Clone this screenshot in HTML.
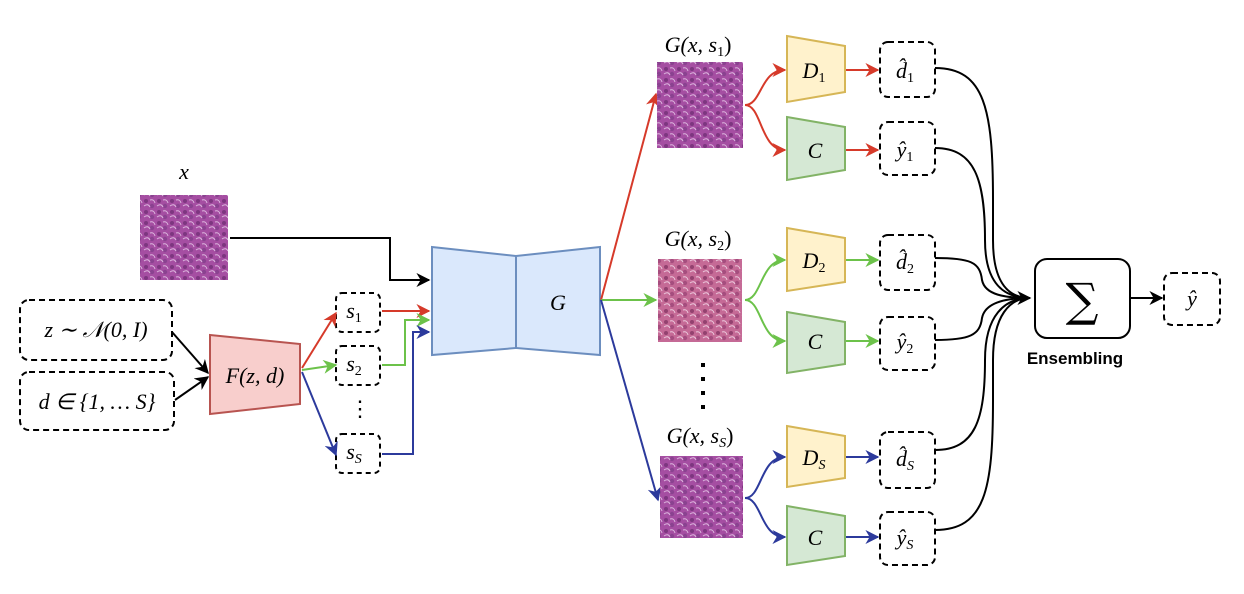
<!DOCTYPE html>
<html><head><meta charset="utf-8"><style>
html,body{margin:0;padding:0;background:#fff;}
svg{display:block;}
.m{font-family:"Liberation Serif",serif;font-style:italic;font-size:22px;}
.r{font-family:"Liberation Serif",serif;font-size:22px;}
</style></head><body>
<svg width="1244" height="594" viewBox="0 0 1244 594" xmlns="http://www.w3.org/2000/svg">
<defs>
<marker id="ak" viewBox="0 0 10 10" refX="9" refY="5" markerWidth="7" markerHeight="7" orient="auto"><path d="M0,0 L10,5 L0,10 L3,5z" fill="#000"/></marker>
<marker id="ar" viewBox="0 0 10 10" refX="9" refY="5" markerWidth="7" markerHeight="7" orient="auto"><path d="M0,0 L10,5 L0,10 L3,5z" fill="#d63a2a"/></marker>
<marker id="ag" viewBox="0 0 10 10" refX="9" refY="5" markerWidth="7" markerHeight="7" orient="auto"><path d="M0,0 L10,5 L0,10 L3,5z" fill="#6cc24a"/></marker>
<marker id="ab" viewBox="0 0 10 10" refX="9" refY="5" markerWidth="7" markerHeight="7" orient="auto"><path d="M0,0 L10,5 L0,10 L3,5z" fill="#2c3a9c"/></marker>
<pattern id="tis" width="13" height="11" patternUnits="userSpaceOnUse">
<rect width="13" height="11" fill="#a54ea2"/>
<circle cx="3" cy="3" r="2" fill="#7d3680"/><circle cx="9" cy="8" r="2.2" fill="#8a4290"/>
<path d="M1,8 Q5,5 7,9 M7,2 Q11,1 12,5" stroke="#dcb6de" stroke-width="1" fill="none"/>
</pattern>
<pattern id="tis2" width="13" height="11" patternUnits="userSpaceOnUse">
<rect width="13" height="11" fill="#c56a96"/>
<circle cx="3" cy="3" r="2" fill="#93416f"/><circle cx="9" cy="8" r="2.2" fill="#a54d7e"/>
<path d="M1,8 Q5,5 7,9 M7,2 Q11,1 12,5" stroke="#ecc8dc" stroke-width="1" fill="none"/>
</pattern>
</defs>

<text x="184" y="179" class="m" text-anchor="middle">x</text>
<rect x="140" y="195" width="88" height="85" fill="url(#tis)"/>
<path d="M230,238 L390,238 L390,280 L429,280" stroke="#000" stroke-width="2" fill="none" marker-end="url(#ak)"/>

<rect x="20" y="300" width="152" height="60" rx="9" fill="none" stroke="#000" stroke-width="2" stroke-dasharray="6,4"/>
<text x="96" y="337" class="m" text-anchor="middle">z ∼ 𝒩(0, I)</text>
<rect x="20" y="372" width="154" height="58" rx="9" fill="none" stroke="#000" stroke-width="2" stroke-dasharray="6,4"/>
<text x="97" y="409" class="m" text-anchor="middle">d ∈ {1, … S}</text>
<line x1="172" y1="332" x2="208" y2="373" stroke="#000" stroke-width="2" marker-end="url(#ak)"/>
<line x1="175" y1="400" x2="208" y2="377" stroke="#000" stroke-width="2" marker-end="url(#ak)"/>

<polygon points="210,335 300,344 300,404 210,414" fill="#f8cecc" stroke="#b85450" stroke-width="2"/>
<text x="255" y="383" class="m" text-anchor="middle">F(z, d)</text>

<rect x="336" y="293" width="44" height="39" rx="6" fill="none" stroke="#000" stroke-width="2" stroke-dasharray="5,4"/>
<text x="354" y="318" class="m" text-anchor="middle">s<tspan font-size="14" font-style="normal" dy="4">1</tspan></text>
<rect x="336" y="346" width="44" height="39" rx="6" fill="none" stroke="#000" stroke-width="2" stroke-dasharray="5,4"/>
<text x="354" y="371" class="m" text-anchor="middle">s<tspan font-size="14" font-style="normal" dy="4">2</tspan></text>
<text x="360" y="416" class="r" text-anchor="middle">⋮</text>
<rect x="336" y="434" width="44" height="39" rx="6" fill="none" stroke="#000" stroke-width="2" stroke-dasharray="5,4"/>
<text x="354" y="459" class="m" text-anchor="middle">s<tspan font-size="14" dy="4">S</tspan></text>

<line x1="302" y1="368" x2="336" y2="313" stroke="#d63a2a" stroke-width="2" marker-end="url(#ar)"/>
<line x1="302" y1="370" x2="336" y2="365" stroke="#6cc24a" stroke-width="2" marker-end="url(#ag)"/>
<line x1="302" y1="372" x2="336" y2="455" stroke="#2c3a9c" stroke-width="2" marker-end="url(#ab)"/>

<path d="M382,311 L429,311" stroke="#d63a2a" stroke-width="2" fill="none" marker-end="url(#ar)"/>
<path d="M382,365 L405,365 L405,320 L429,320" stroke="#6cc24a" stroke-width="2" fill="none" marker-end="url(#ag)"/>
<path d="M382,454 L413,454 L413,332 L429,332" stroke="#2c3a9c" stroke-width="2" fill="none" marker-end="url(#ab)"/>

<polygon points="432,247 516,256 516,348 432,355" fill="#dae8fc" stroke="#6c8ebf" stroke-width="2"/>
<polygon points="516,256 600,247 600,355 516,348" fill="#dae8fc" stroke="#6c8ebf" stroke-width="2"/>
<text x="558" y="310" class="m" text-anchor="middle">G</text>

<line x1="601" y1="300" x2="656" y2="94" stroke="#d63a2a" stroke-width="2" marker-end="url(#ar)"/>
<line x1="601" y1="300" x2="656" y2="300" stroke="#6cc24a" stroke-width="2" marker-end="url(#ag)"/>
<line x1="601" y1="300" x2="658" y2="500" stroke="#2c3a9c" stroke-width="2" marker-end="url(#ab)"/>

<text x="698" y="52" class="m" text-anchor="middle">G(x, s<tspan font-size="14" font-style="normal" dy="4">1</tspan><tspan dy="-4" font-style="normal">)</tspan></text>
<rect x="657" y="62" width="86" height="86" fill="url(#tis)"/>
<text x="698" y="246" class="m" text-anchor="middle">G(x, s<tspan font-size="14" font-style="normal" dy="4">2</tspan><tspan dy="-4" font-style="normal">)</tspan></text>
<rect x="658" y="259" width="84" height="83" fill="url(#tis2)"/>
<g fill="#000"><rect x="701" y="363" width="4" height="4"/><rect x="701" y="377" width="4" height="4"/><rect x="701" y="391" width="4" height="4"/><rect x="701" y="405" width="4" height="4"/></g>
<text x="700" y="443" class="m" text-anchor="middle">G(x, s<tspan font-size="14" dy="4">S</tspan><tspan dy="-4" font-style="normal">)</tspan></text>
<rect x="660" y="456" width="83" height="82" fill="url(#tis)"/>

<g fill="none" stroke-width="2">
<path d="M745,105 C762,105 760,70 785,70" stroke="#d63a2a" marker-end="url(#ar)"/>
<path d="M745,105 C762,105 760,150 785,150" stroke="#d63a2a" marker-end="url(#ar)"/>
<path d="M745,300 C762,300 760,260 785,260" stroke="#6cc24a" marker-end="url(#ag)"/>
<path d="M745,300 C762,300 760,341 785,341" stroke="#6cc24a" marker-end="url(#ag)"/>
<path d="M745,498 C762,498 760,457 785,457" stroke="#2c3a9c" marker-end="url(#ab)"/>
<path d="M745,498 C762,498 760,537 785,537" stroke="#2c3a9c" marker-end="url(#ab)"/>
<path d="M846,70 L878,70" stroke="#d63a2a" marker-end="url(#ar)"/>
<path d="M846,150 L878,150" stroke="#d63a2a" marker-end="url(#ar)"/>
<path d="M846,260 L878,260" stroke="#6cc24a" marker-end="url(#ag)"/>
<path d="M846,341 L878,341" stroke="#6cc24a" marker-end="url(#ag)"/>
<path d="M846,457 L878,457" stroke="#2c3a9c" marker-end="url(#ab)"/>
<path d="M846,537 L878,537" stroke="#2c3a9c" marker-end="url(#ab)"/>
</g>

<g stroke-width="2">
<polygon points="787,36 845,46 845,92 787,102" fill="#fff2cc" stroke="#d6b656"/>
<polygon points="787,117 845,127 845,170 787,180" fill="#d5e8d4" stroke="#82b366"/>
<polygon points="787,228 845,238 845,282 787,291" fill="#fff2cc" stroke="#d6b656"/>
<polygon points="787,312 845,322 845,364 787,373" fill="#d5e8d4" stroke="#82b366"/>
<polygon points="787,426 845,436 845,478 787,487" fill="#fff2cc" stroke="#d6b656"/>
<polygon points="787,506 845,516 845,556 787,565" fill="#d5e8d4" stroke="#82b366"/>
</g>
<text x="814" y="78" class="m" text-anchor="middle">D<tspan font-size="14" font-style="normal" dy="4">1</tspan></text>
<text x="815" y="158" class="m" text-anchor="middle">C</text>
<text x="814" y="268" class="m" text-anchor="middle">D<tspan font-size="14" font-style="normal" dy="4">2</tspan></text>
<text x="815" y="349" class="m" text-anchor="middle">C</text>
<text x="814" y="465" class="m" text-anchor="middle">D<tspan font-size="14" dy="4">S</tspan></text>
<text x="815" y="545" class="m" text-anchor="middle">C</text>

<g fill="none" stroke="#000" stroke-width="2" stroke-dasharray="6,4">
<rect x="880" y="42" width="55" height="55" rx="8"/>
<rect x="880" y="122" width="55" height="53" rx="8"/>
<rect x="880" y="235" width="55" height="55" rx="8"/>
<rect x="880" y="317" width="55" height="53" rx="8"/>
<rect x="880" y="432" width="55" height="56" rx="8"/>
<rect x="880" y="512" width="55" height="53" rx="8"/>
<rect x="1164" y="273" width="56" height="52" rx="8"/>
</g>
<text x="905" y="78" class="m" text-anchor="middle">d̂<tspan font-size="14" font-style="normal" dy="4">1</tspan></text>
<text x="905" y="157" class="m" text-anchor="middle">ŷ<tspan font-size="14" font-style="normal" dy="4">1</tspan></text>
<text x="905" y="269" class="m" text-anchor="middle">d̂<tspan font-size="14" font-style="normal" dy="4">2</tspan></text>
<text x="905" y="349" class="m" text-anchor="middle">ŷ<tspan font-size="14" font-style="normal" dy="4">2</tspan></text>
<text x="905" y="466" class="m" text-anchor="middle">d̂<tspan font-size="14" dy="4">S</tspan></text>
<text x="905" y="545" class="m" text-anchor="middle">ŷ<tspan font-size="14" dy="4">S</tspan></text>
<text x="1192" y="306" class="m" text-anchor="middle">ŷ</text>

<g fill="none" stroke="#000" stroke-width="2">
<path d="M935,68 C985,68 993,110 993,200 L993,240 C993,285 1010,298 1030,298"/>
<path d="M935,148 C975,148 985,180 985,240 C985,285 1005,298 1030,298"/>
<path d="M935,258 C970,258 980,262 982,280 C985,295 1005,298 1030,298"/>
<path d="M935,340 C970,340 980,335 982,318 C985,303 1005,298 1030,298"/>
<path d="M935,450 C975,450 985,420 985,360 C985,315 1005,298 1030,298"/>
<path d="M935,530 C985,530 993,490 993,400 L993,360 C993,315 1010,298 1030,298" marker-end="url(#ak)"/>
</g>
<rect x="1035" y="259" width="95" height="79" rx="12" fill="#fff" stroke="#000" stroke-width="2"/>
<text x="1082" y="316" font-family="DejaVu Serif,serif" font-size="46" text-anchor="middle">∑</text>
<text x="1075" y="364" font-family="Liberation Sans,sans-serif" font-weight="bold" font-size="17" text-anchor="middle">Ensembling</text>
<line x1="1131" y1="298" x2="1162" y2="298" stroke="#000" stroke-width="2" marker-end="url(#ak)"/>
</svg>
</body></html>
